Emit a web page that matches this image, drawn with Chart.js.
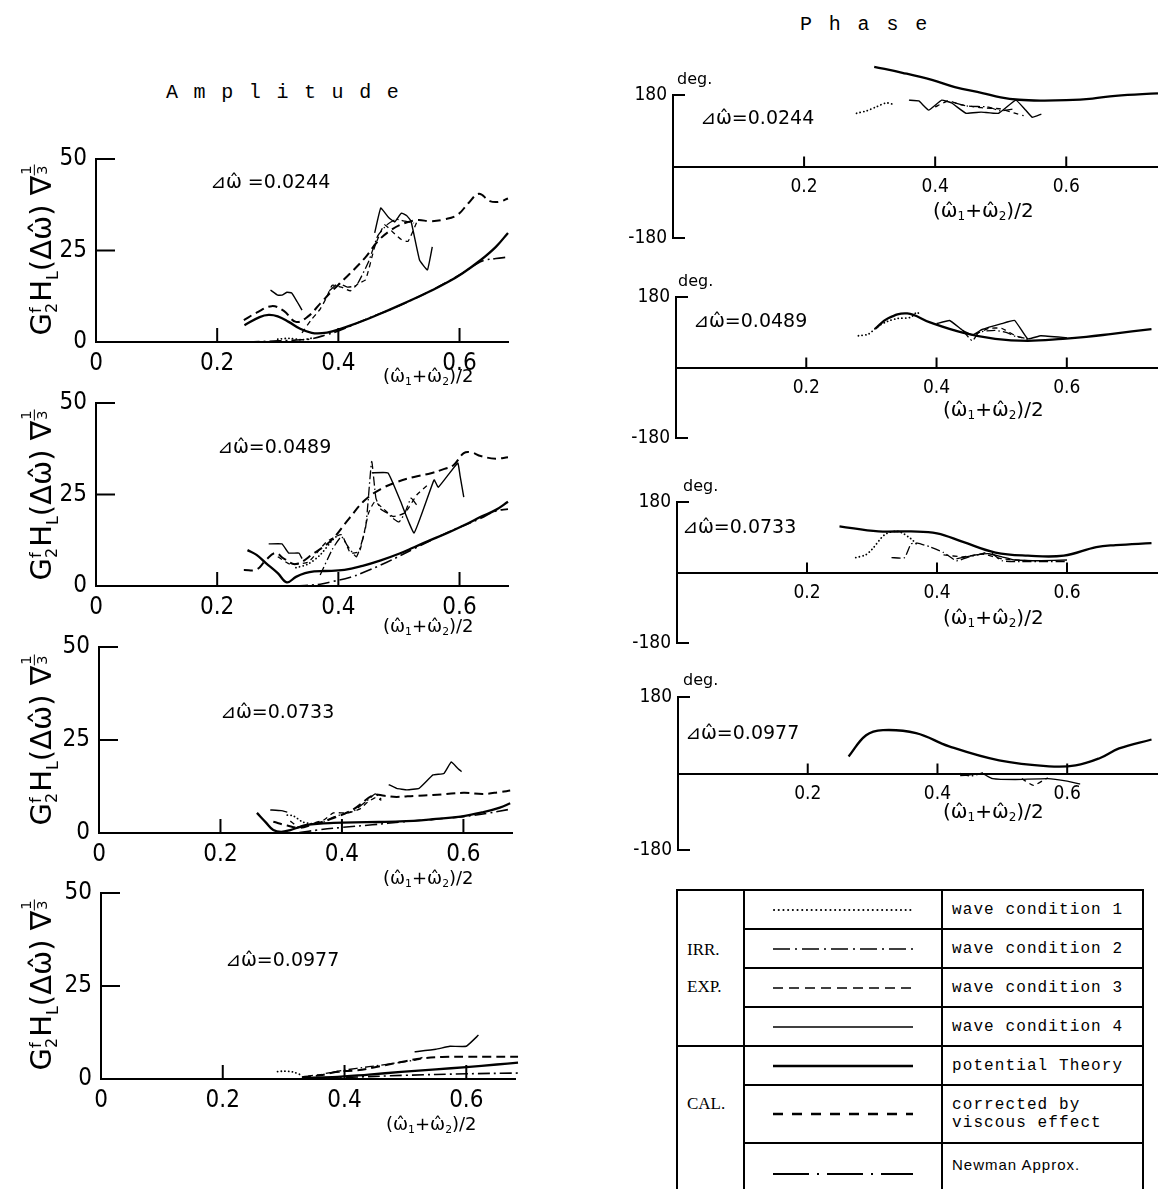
<!DOCTYPE html>
<html><head><meta charset="utf-8">
<script src="https://cdn.jsdelivr.net/npm/chart.js@4.4.1/dist/chart.umd.min.js"></script>
<style>
html,body{margin:0;padding:0;background:#fff;}
body{width:1158px;height:1189px;position:relative;overflow:hidden;font-family:'DejaVu Sans',sans-serif;color:#000;}
canvas{position:absolute;}
.t{position:absolute;white-space:nowrap;line-height:1;}
.head{font-family:'Liberation Mono',monospace;font-size:20px;}
.dw{font-family:'DejaVu Sans',sans-serif;font-size:19px;}
.xt{font-family:'DejaVu Sans',sans-serif;}
.xt sub{font-size:60%;vertical-align:-0.25em;}
.yt{font-family:'DejaVu Sans',sans-serif;font-size:29px;transform:translate(-50%,-50%) rotate(-90deg);}
.ss{display:inline-block;vertical-align:middle;line-height:0.95;font-size:55%;text-align:left;margin-right:1px;}
.ss span{display:block;}
.fr{display:inline-block;vertical-align:0.35em;line-height:1;font-size:50%;text-align:center;}
.fr span{display:block;}
.fr .n{border-bottom:1.5px solid #000;padding:0 1px;}
.deg{font-family:'DejaVu Sans',sans-serif;font-size:16px;}
#legend{position:absolute;left:676px;top:889px;width:466px;border-collapse:collapse;table-layout:fixed;}
#legend td{border:2px solid #000;padding:0;overflow:hidden;}
#legend .grp{font-family:'Liberation Serif',serif;font-size:17px;vertical-align:middle;line-height:37px;}
#legend .grp div{padding-left:9px;}
#legend .smp{text-align:center;}
#legend .lab{font-family:'Liberation Mono',monospace;font-size:16px;letter-spacing:1.1px;white-space:nowrap;}
#legend .lab div{padding-left:9px;}
#legend svg{display:block;margin:0 auto;}
</style></head><body>
<div class="t head" style="left:166px;top:83px;letter-spacing:1.8px;">A m p l i t u d e</div>
<div class="t head" style="left:800px;top:15px;letter-spacing:2.4px;">P h a s e</div>

<canvas id="a1"></canvas><canvas id="a2"></canvas><canvas id="a3"></canvas><canvas id="a4"></canvas>
<canvas id="p1"></canvas><canvas id="p2"></canvas><canvas id="p3"></canvas><canvas id="p4"></canvas>

<table id="legend">
<colgroup><col style="width:67px"><col style="width:198px"><col style="width:201px"></colgroup>
<tr style="height:39px"><td class="grp" rowspan="4"><div>IRR.<br>EXP.</div></td><td class="smp"><svg width="140" height="8"><line x1="1" y1="4" x2="139" y2="4" stroke="#000" stroke-width="2" stroke-linecap="round" stroke-dasharray="0.1,4.6"/></svg></td><td class="lab"><div>wave condition 1</div></td></tr>
<tr style="height:39px"><td class="smp"><svg width="140" height="8"><line x1="0" y1="4" x2="140" y2="4" stroke="#000" stroke-width="1.6" stroke-dasharray="17,5,2,5"/></svg></td><td class="lab"><div>wave condition 2</div></td></tr>
<tr style="height:39px"><td class="smp"><svg width="140" height="8"><line x1="0" y1="4" x2="140" y2="4" stroke="#000" stroke-width="1.6" stroke-dasharray="10,6"/></svg></td><td class="lab"><div>wave condition 3</div></td></tr>
<tr style="height:39px"><td class="smp"><svg width="140" height="8"><line x1="0" y1="4" x2="140" y2="4" stroke="#000" stroke-width="1.6"/></svg></td><td class="lab"><div>wave condition 4</div></td></tr>
<tr style="height:39px"><td class="grp" rowspan="3" style="vertical-align:top;"><div style="padding-top:38px;">CAL.</div></td><td class="smp"><svg width="140" height="8"><line x1="0" y1="4" x2="140" y2="4" stroke="#000" stroke-width="2.6"/></svg></td><td class="lab"><div>potential Theory</div></td></tr>
<tr style="height:58px"><td class="smp"><svg width="140" height="8"><line x1="0" y1="4" x2="140" y2="4" stroke="#000" stroke-width="2.4" stroke-dasharray="10,9"/></svg></td><td class="lab" style="line-height:18px;"><div>corrected by<br>viscous effect</div></td></tr>
<tr style="height:62px"><td class="smp"><svg width="140" height="8"><line x1="0" y1="4" x2="140" y2="4" stroke="#000" stroke-width="1.8" stroke-dasharray="36,8,2,8"/></svg></td><td class="lab" style="font-family:'Liberation Sans',sans-serif;font-size:15px;letter-spacing:1px;vertical-align:top;"><div style="padding-top:12px;">Newman Approx.</div></td></tr>
</table>

<script>
// ---------------- tick values / labels ----------------
const ampXTicks = [0, 0.2, 0.4, 0.6];
const phaseXTicks = [0.2, 0.4, 0.6];
const ampYTicks = [0, 25, 50];
const phaseYTicks = [-180, 180];
const deltaOmega = ['0.0244', '0.0489', '0.0733', '0.0977'];

// ---------------- Amplitude, Δω = 0.0244 ----------------
const amp1_pot = [[0.245,4.6],[0.27,6.8],[0.285,7.4],[0.3,7.0],[0.318,5.5],[0.337,3.6],[0.356,2.5],[0.373,2.4],[0.39,2.9],[0.418,4.4],[0.444,6.0],[0.47,7.8],[0.498,9.8],[0.525,11.8],[0.553,14.0],[0.58,16.3],[0.605,18.8],[0.635,22.4],[0.66,26.0],[0.68,29.8]];
const amp1_vis = [[0.244,6.0],[0.265,8.0],[0.29,9.8],[0.31,8.5],[0.33,5.5],[0.35,7.0],[0.37,10.5],[0.39,14.0],[0.418,18.5],[0.444,23.0],[0.465,27.5],[0.487,30.6],[0.51,32.5],[0.531,33.3],[0.552,33.0],[0.575,33.5],[0.597,34.8],[0.615,38.0],[0.632,40.5],[0.65,38.5],[0.665,38.3],[0.68,39.2]];
const amp1_new = [[0.25,0.0],[0.3,0.3],[0.34,0.6],[0.36,1.0],[0.38,2.0],[0.4,3.0],[0.44,5.8],[0.5,9.9],[0.55,13.8],[0.6,18.3],[0.625,21.0],[0.64,22.3],[0.66,22.8],[0.68,23.2]];
const amp1_wc1 = [[0.3,0.8],[0.32,1.0],[0.34,0.6],[0.36,1.2]];
const amp1_wc2 = [[0.385,14.0],[0.4,16.0],[0.415,15.0],[0.43,15.5],[0.45,22.0],[0.465,29.0],[0.48,32.0],[0.495,33.5],[0.51,33.0],[0.525,32.5]];
const amp1_wc3 = [[0.34,2.5],[0.355,6.0],[0.37,9.0],[0.38,12.0],[0.39,15.5],[0.405,15.0],[0.42,14.0],[0.433,16.0],[0.445,17.0],[0.46,26.0],[0.476,32.0],[0.49,30.0],[0.504,28.0],[0.515,27.5],[0.53,33.0]];
const amp1_wc4 = [[0.288,14.2],[0.3,12.8],[0.307,12.8],[0.315,13.6],[0.323,13.4],[0.332,11.0],[0.34,8.7],[0.4,null],[0.46,29.8],[0.47,36.6],[0.483,34.0],[0.493,32.8],[0.504,35.2],[0.513,34.5],[0.52,33.0],[0.534,22.4],[0.547,19.7],[0.555,26.0]];

// ---------------- Amplitude, Δω = 0.0489 ----------------
const amp2_pot = [[0.25,9.8],[0.265,8.5],[0.28,6.3],[0.3,3.5],[0.315,1.0],[0.33,2.5],[0.345,3.5],[0.36,4.0],[0.378,4.1],[0.41,4.4],[0.44,5.5],[0.47,7.0],[0.5,8.8],[0.525,10.6],[0.55,12.4],[0.58,14.5],[0.61,16.8],[0.635,18.9],[0.66,20.8],[0.68,23.0]];
const amp2_vis = [[0.244,4.4],[0.265,4.5],[0.28,7.0],[0.296,9.0],[0.31,7.5],[0.33,6.0],[0.36,9.0],[0.389,12.6],[0.418,18.5],[0.444,23.5],[0.47,26.5],[0.498,28.5],[0.525,29.8],[0.553,30.8],[0.575,32.0],[0.59,33.0],[0.607,36.3],[0.62,36.5],[0.635,35.5],[0.66,34.8],[0.68,35.2]];
const amp2_new = [[0.33,0.0],[0.37,0.5],[0.39,1.2],[0.42,2.4],[0.44,3.6],[0.48,6.5],[0.525,10.2],[0.58,14.6],[0.635,18.5],[0.66,20.5],[0.68,21.0]];
const amp2_wc1 = [[0.33,5.0],[0.35,6.0],[0.37,8.5],[0.39,12.5],[0.4,14.0]];
const amp2_wc2 = [[0.37,3.0],[0.39,10.0],[0.405,13.5],[0.415,11.0],[0.43,8.0],[0.445,16.0],[0.455,34.0],[0.462,24.0],[0.47,21.0],[0.48,20.0],[0.49,18.5],[0.5,17.5],[0.51,20.0],[0.52,24.0],[0.53,22.0]];
const amp2_wc3 = [[0.3,8.0],[0.32,6.0],[0.35,6.5],[0.38,12.0],[0.405,14.0],[0.42,9.0],[0.435,9.5],[0.45,20.0],[0.46,23.0],[0.475,21.0],[0.49,19.0],[0.51,20.0],[0.53,25.0],[0.55,28.0]];
const amp2_wc4 = [[0.285,11.5],[0.307,11.5],[0.318,9.0],[0.335,9.0],[0.34,7.5],[0.4,null],[0.455,30.9],[0.482,30.9],[0.503,23.0],[0.525,14.5],[0.558,29.0],[0.565,27.0],[0.597,33.6],[0.601,30.0],[0.607,24.3]];

// ---------------- Amplitude, Δω = 0.0733 ----------------
const amp3_pot = [[0.26,5.4],[0.275,2.8],[0.287,0.8],[0.3,0.3],[0.315,0.8],[0.33,1.6],[0.342,2.2],[0.386,2.7],[0.44,2.9],[0.496,3.1],[0.55,3.7],[0.595,4.4],[0.633,5.6],[0.66,6.8],[0.677,8.0]];
const amp3_vis = [[0.287,3.0],[0.31,2.0],[0.33,1.4],[0.35,2.2],[0.386,4.0],[0.42,6.5],[0.452,10.2],[0.47,10.0],[0.49,9.7],[0.52,10.0],[0.55,10.2],[0.6,10.8],[0.633,10.5],[0.66,11.0],[0.677,11.4]];
const amp3_new = [[0.33,0.1],[0.36,0.8],[0.4,1.5],[0.45,2.2],[0.5,3.0],[0.55,3.7],[0.6,4.4],[0.64,5.3],[0.677,6.4]];
const amp3_wc1 = [[0.31,4.8],[0.32,4.6],[0.335,3.0],[0.35,2.5]];
const amp3_wc2 = [[0.35,2.5],[0.37,3.0],[0.385,4.2],[0.4,5.0],[0.42,6.0],[0.44,8.5],[0.455,10.5],[0.465,9.0]];
const amp3_wc3 = [[0.315,3.2],[0.33,1.5],[0.35,2.5],[0.37,3.5],[0.386,5.4],[0.41,5.4],[0.43,6.5],[0.44,8.0],[0.455,9.5],[0.465,8.8]];
const amp3_wc4 = [[0.282,6.2],[0.3,6.0],[0.31,5.6],[0.4,null],[0.477,13.0],[0.49,12.0],[0.507,11.6],[0.527,12.0],[0.55,15.6],[0.568,16.0],[0.58,19.1],[0.59,17.5],[0.597,16.5]];

// ---------------- Amplitude, Δω = 0.0977 ----------------
const amp4_pot = [[0.33,0.3],[0.38,0.5],[0.44,1.2],[0.493,1.9],[0.55,2.6],[0.6,3.2],[0.65,3.9],[0.685,4.4]];
const amp4_vis = [[0.33,0.5],[0.36,1.0],[0.39,2.0],[0.42,2.3],[0.46,3.5],[0.5,4.8],[0.53,5.6],[0.56,5.9],[0.6,6.0],[0.64,6.0],[0.685,6.0]];
const amp4_new = [[0.33,0.1],[0.4,0.4],[0.5,1.0],[0.6,1.4],[0.685,1.6]];
const amp4_wc1 = [[0.29,2.0],[0.3,2.1],[0.315,1.9],[0.33,1.0]];
const amp4_wc2 = [[0.38,1.8],[0.4,2.4],[0.44,3.3],[0.48,4.2],[0.52,5.2],[0.53,6.0]];
const amp4_wc3 = [[0.34,0.8],[0.36,1.2],[0.38,1.8],[0.4,1.9]];
const amp4_wc4 = [[0.515,7.3],[0.55,8.0],[0.573,8.8],[0.6,8.8],[0.62,11.8]];

// ---------------- Phase (deg) ----------------
const ph1_pot = [[0.307,251],[0.35,236],[0.395,218],[0.43,200],[0.472,185],[0.5,174],[0.528,168],[0.56,166],[0.6,167],[0.64,171],[0.675,178],[0.74,184]];
const ph1_wc1 = [[0.28,134],[0.295,140],[0.31,150],[0.325,160],[0.335,157]];
const ph1_wc2 = [[0.43,160],[0.45,152],[0.48,150],[0.5,140],[0.52,145]];
const ph1_wc3 = [[0.4,150],[0.42,165],[0.44,155],[0.47,148],[0.5,145],[0.52,135],[0.535,128]];
const ph1_wc4 = [[0.36,167],[0.375,165],[0.39,142],[0.41,167],[0.425,160],[0.447,134],[0.47,137],[0.497,134],[0.523,167],[0.538,142],[0.548,124],[0.562,132]];

const ph2_pot = [[0.306,99],[0.325,125],[0.355,138],[0.39,115],[0.44,89],[0.49,73],[0.54,68],[0.594,73],[0.63,78],[0.67,86],[0.73,98]];
const ph2_wc1 = [[0.28,81],[0.295,85],[0.31,105],[0.325,118],[0.34,125],[0.36,128],[0.37,141],[0.375,133]];
const ph2_wc2 = [[0.44,95],[0.455,68],[0.465,90],[0.49,95],[0.51,88],[0.52,80],[0.535,75]];
const ph2_wc3 = [[0.46,85],[0.48,100],[0.5,100],[0.52,82],[0.54,72]];
const ph2_wc4 = [[0.4,112],[0.42,120],[0.44,95],[0.455,83],[0.47,97],[0.5,112],[0.52,120],[0.54,73],[0.56,81],[0.6,76]];

const ph3_pot = [[0.25,118],[0.31,105],[0.36,105],[0.4,100],[0.44,78],[0.49,51],[0.54,43],[0.595,43],[0.645,65],[0.675,70],[0.73,75]];
const ph3_wc1 = [[0.275,38],[0.29,45],[0.3,59],[0.32,97],[0.34,105],[0.36,86],[0.37,70]];
const ph3_wc2 = [[0.33,38],[0.35,38],[0.36,73],[0.37,75],[0.39,65],[0.41,51],[0.43,30],[0.45,40],[0.47,48],[0.48,54],[0.5,30],[0.53,28],[0.6,28]];
const ph3_wc3 = [[0.41,45],[0.44,40],[0.47,47],[0.5,35],[0.54,30]];
const ph3_wc4 = [[0.43,35],[0.46,45],[0.48,48],[0.5,40],[0.52,32],[0.56,30],[0.6,32]];

const ph4_pot = [[0.263,40],[0.29,90],[0.316,102],[0.367,95],[0.418,64],[0.495,31],[0.572,17],[0.613,19],[0.65,36],[0.68,59],[0.73,80]];
const ph4_wc2 = [[0.435,0],[0.45,-6],[0.46,-3],[0.47,2]];
const ph4_wc3 = [[0.53,-12],[0.548,-28],[0.57,-10]];
const ph4_wc4 = [[0.435,-5],[0.45,-3],[0.47,-1],[0.485,-12],[0.52,-14],[0.57,-12],[0.6,-18],[0.62,-25]];

// ---------------- styles ----------------
const STYLE = {
  wc1: {borderDash:[0.1,3.6], borderWidth:1.8, borderCapStyle:'round', tension:0.3},
  wc2: {borderDash:[9,3,1.5,3], borderWidth:1.3, tension:0.15},
  wc3: {borderDash:[5,4], borderWidth:1.3, tension:0.15},
  wc4: {borderDash:[], borderWidth:1.4, tension:0.1},
  pot: {borderDash:[], borderWidth:2.3, tension:0.4},
  vis: {borderDash:[9,5], borderWidth:2.0, tension:0.4},
  nw:  {borderDash:[12,4,2,4], borderWidth:1.6, tension:0.4}
};
const NAMES = {wc1:'wave condition 1', wc2:'wave condition 2', wc3:'wave condition 3', wc4:'wave condition 4', pot:'potential Theory', vis:'corrected by viscous effect', nw:'Newman Approx.'};

const innerTicks = {
  id: 'innerTicks',
  afterDraw(chart, args, o) {
    const {ctx, scales: {x, y}} = chart;
    ctx.save();
    ctx.strokeStyle = '#000';
    ctx.lineWidth = o.w;
    const y0 = y.getPixelForValue(o.xAxisAt);
    const x0 = x.getPixelForValue(0);
    o.x.forEach(v => { const px = x.getPixelForValue(v); ctx.beginPath(); ctx.moveTo(px, y0); ctx.lineTo(px, y0 - o.xLen); ctx.stroke(); });
    o.y.forEach(v => { const py = y.getPixelForValue(v); ctx.beginPath(); ctx.moveTo(x0, py); ctx.lineTo(x0 + o.yLen, py); ctx.stroke(); });
    ctx.restore();
  }
};

function makeDatasets(series) {
  return Object.keys(series).map(k => Object.assign({
    label: NAMES[k],
    data: series[k].map(p => ({x: p[0], y: p[1]})),
    borderColor: '#000',
    backgroundColor: '#000',
    pointRadius: 0,
    fill: false,
    spanGaps: false,
    clip: false
  }, STYLE[k]));
}

const NARROW = "'Liberation Sans Narrow','DejaVu Sans Condensed','Liberation Sans',sans-serif";

function build(id, rect, box, kind, series) {
  const cv = document.getElementById(id);
  cv.width = rect.w; cv.height = rect.h;
  cv.style.left = rect.x + 'px'; cv.style.top = rect.y + 'px';
  cv.style.width = rect.w + 'px'; cv.style.height = rect.h + 'px';
  const amp = kind === 'amp';
  const yW = amp ? 60 : 50;
  const xH = amp ? 40 : 0;
  const fs = amp ? 24 : 19;
  const padding = {
    left: box.L - rect.x - yW,
    top: box.T - rect.y,
    right: rect.x + rect.w - box.R,
    bottom: rect.y + rect.h - box.B - xH
  };
  const xTicks = amp ? ampXTicks : phaseXTicks;
  const yTicks = amp ? ampYTicks : phaseYTicks;
  return new Chart(cv, {
    type: 'line',
    data: {datasets: makeDatasets(series)},
    plugins: [innerTicks],
    options: {
      responsive: false, animation: false, devicePixelRatio: 1, events: [],
      layout: {padding},
      plugins: {
        legend: {display: false}, tooltip: {enabled: false},
        innerTicks: amp
          ? {x: [0.2, 0.4, 0.6], y: [25, 50], xLen: 14, yLen: 19, xAxisAt: 0, w: 2}
          : {x: [0.2, 0.4, 0.6], y: [-180, 180], xLen: 10, yLen: 12, xAxisAt: 0, w: 2}
      },
      scales: {
        x: {
          type: 'linear', min: 0, max: box.xmax,
          position: amp ? 'bottom' : {y: 0},
          afterFit: s => { if (amp) s.height = xH; },
          afterBuildTicks: s => { s.ticks = xTicks.map(v => ({value: v})); },
          grid: {display: false, drawTicks: false},
          border: {display: true, color: '#000', width: 2},
          ticks: {autoSkip: false, maxRotation: 0, padding: amp ? 7 : 9, color: '#000',
                  font: {family: NARROW, size: fs}, callback: v => String(v)}
        },
        y: {
          type: 'linear', min: amp ? 0 : -180, max: amp ? 50 : 180,
          afterFit: s => { s.width = yW; },
          afterBuildTicks: s => { s.ticks = yTicks.map(v => ({value: v})); },
          grid: {display: false, drawTicks: false},
          border: {display: true, color: '#000', width: 2},
          ticks: {autoSkip: false, padding: amp ? 9 : 6, color: '#000',
                  font: {family: NARROW, size: fs}, callback: v => String(v)}
        }
      }
    }
  });
}

const ampBoxes = [
  {L: 96, T: 159, R: 508, B: 342, xmax: 0.68},
  {L: 96, T: 403, R: 508, B: 586, xmax: 0.68},
  {L: 99, T: 647, R: 512, B: 833, xmax: 0.68},
  {L: 101, T: 893, R: 515, B: 1079, xmax: 0.68}
];
const phBoxes = [
  {L: 673, T: 95, R: 1158, B: 238, xmax: 0.74},
  {L: 676, T: 297, R: 1158, B: 438, xmax: 0.74},
  {L: 677, T: 502, R: 1158, B: 643, xmax: 0.74},
  {L: 678, T: 697, R: 1158, B: 850, xmax: 0.74}
];
const ampSeries = [
  {wc1: amp1_wc1, wc2: amp1_wc2, wc3: amp1_wc3, wc4: amp1_wc4, nw: amp1_new, vis: amp1_vis, pot: amp1_pot},
  {wc1: amp2_wc1, wc2: amp2_wc2, wc3: amp2_wc3, wc4: amp2_wc4, nw: amp2_new, vis: amp2_vis, pot: amp2_pot},
  {wc1: amp3_wc1, wc2: amp3_wc2, wc3: amp3_wc3, wc4: amp3_wc4, nw: amp3_new, vis: amp3_vis, pot: amp3_pot},
  {wc1: amp4_wc1, wc2: amp4_wc2, wc3: amp4_wc3, wc4: amp4_wc4, nw: amp4_new, vis: amp4_vis, pot: amp4_pot}
];
const phSeries = [
  {wc1: ph1_wc1, wc2: ph1_wc2, wc3: ph1_wc3, wc4: ph1_wc4, pot: ph1_pot},
  {wc1: ph2_wc1, wc2: ph2_wc2, wc3: ph2_wc3, wc4: ph2_wc4, pot: ph2_pot},
  {wc1: ph3_wc1, wc2: ph3_wc2, wc3: ph3_wc3, wc4: ph3_wc4, pot: ph3_pot},
  {wc2: ph4_wc2, wc3: ph4_wc3, wc4: ph4_wc4, pot: ph4_pot}
];

ampBoxes.forEach((b, i) => build('a' + (i + 1), {x: 0, y: b.T - 30, w: 560, h: (b.B - b.T) + 75}, b, 'amp', ampSeries[i]));
phBoxes.forEach((b, i) => build('p' + (i + 1), {x: 580, y: b.T - 60, w: 578, h: (b.B - b.T) + 80}, b, 'phase', phSeries[i]));

// ---------------- text labels (HTML) ----------------
function addText(html, cls, left, top, style) {
  const d = document.createElement('div');
  d.className = 't ' + cls;
  d.innerHTML = html;
  d.style.left = left + 'px'; d.style.top = top + 'px';
  if (style) d.setAttribute('style', d.getAttribute('style') + ';' + style);
  document.body.appendChild(d);
  return d;
}
const omegaHat = 'ω&#770;';
const xTitle = '(' + omegaHat + '<sub>1</sub>+' + omegaHat + '<sub>2</sub>)/2';
const yTitle = 'G<span class="ss"><span>f</span><span>2</span></span>H<sub style="font-size:55%">L</sub>(Δ' + omegaHat + ') ∇<span class="fr"><span class="n">1</span><span>3</span></span>';

const ampDwPos = [[210, 172], [217, 437], [220, 702], [225, 950]];
const ampXtPos = [[383, 367], [383, 617], [383, 869], [386, 1115]];
const ampYtCenter = [250, 495, 740, 985];
ampBoxes.forEach((b, i) => {
  addText('⊿' + omegaHat + (i === 0 ? ' =' : '=') + deltaOmega[i], 'dw', ampDwPos[i][0], ampDwPos[i][1]);
  addText(xTitle, 'xt', ampXtPos[i][0], ampXtPos[i][1], 'font-size:18px');
  addText(yTitle, 'yt', 40, ampYtCenter[i]);
});
const phDwPos = [[700, 108], [693, 311], [682, 517], [685, 723]];
const phXtPos = [[933, 200], [943, 399], [943, 607], [943, 801]];
const phDegPos = [[677, 71], [678, 273], [683, 478], [683, 672]];
phBoxes.forEach((b, i) => {
  addText('⊿' + omegaHat + '=' + deltaOmega[i], 'dw', phDwPos[i][0], phDwPos[i][1]);
  addText(xTitle, 'xt', phXtPos[i][0], phXtPos[i][1], 'font-size:20px');
  addText('deg.', 'deg', phDegPos[i][0], phDegPos[i][1]);
});
</script>
</body></html>
